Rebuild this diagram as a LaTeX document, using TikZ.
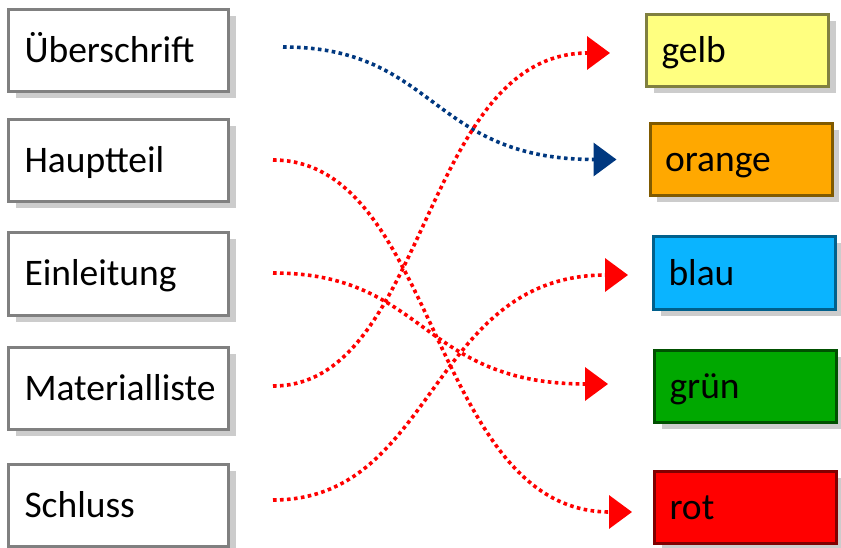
\documentclass[tikz,border=0pt]{standalone}
\usepackage{fontspec}
\setmainfont{Carlito}
\usetikzlibrary{arrows.meta,shadows,calc}
\definecolor{lborder}{RGB}{128,128,128}
\definecolor{shadowgray}{RGB}{204,204,204}
\definecolor{gelbfill}{RGB}{255,255,128}
\definecolor{gelbdraw}{RGB}{128,128,64}
\definecolor{orangefill}{RGB}{255,168,0}
\definecolor{orangedraw}{RGB}{128,90,0}
\definecolor{blaufill}{RGB}{10,180,255}
\definecolor{blaudraw}{RGB}{0,96,140}
\definecolor{gruenfill}{RGB}{0,168,0}
\definecolor{gruendraw}{RGB}{0,80,0}
\definecolor{rotfill}{RGB}{255,0,0}
\definecolor{rotdraw}{RGB}{128,0,0}
\definecolor{navy}{RGB}{0,56,128}
\tikzset{
  box/.style={rectangle, line width=3pt, align=left,
    font=\fontsize{37.5}{42}\selectfont, text height=24pt, text depth=0pt,
    drop shadow={shadow xshift=7pt, shadow yshift=-6.5pt, fill=shadowgray, opacity=1}},
  leftbox/.style={box, draw=lborder, fill=white, minimum width=220pt, minimum height=82pt,
    inner xsep=16pt, text width=188pt},
  rightbox/.style={box, minimum width=182pt, minimum height=72pt,
    inner xsep=15pt, text width=152pt},
  arr/.style={line width=3.6pt, dash pattern=on 3.6pt off 3.4pt,
    -{Triangle[length=23pt,width=33pt]}},
}
\begin{document}
\begin{tikzpicture}[x=1pt,y=-1pt]
\useasboundingbox (0,0) rectangle (841,548);
\node[leftbox] (ueb) at (118.5,51) {Überschrift};
\node[leftbox] (hau) at (118.5,160.5) {Hauptteil};
\node[leftbox] (ein) at (118.5,274) {Einleitung};
\node[leftbox] (mat) at (118.5,388) {Materialliste};
\node[leftbox] (sch) at (118.5,505) {Schluss};
\node[rightbox, draw=gelbdraw, fill=gelbfill] (gel) at (737.5,50.5) {gelb};
\node[rightbox, draw=orangedraw, fill=orangefill] (ora) at (741,159.5) {orange};
\node[rightbox, draw=blaudraw, fill=blaufill] (bla) at (744.5,273) {blau};
\node[rightbox, draw=gruendraw, fill=gruenfill] (gru) at (745.5,386.5) {grün};
\node[rightbox, draw=rotdraw, fill=rotfill] (rot) at (745.5,507) {rot};
\draw[arr, navy] ($(ueb.east)+(53,-4)$) to[out=0,in=180,out distance=154pt,in distance=187pt] ($(ora.west)+(-32,0)$);
\draw[arr, red] ($(hau.east)+(43,-0.5)$) to[out=0,in=180,out distance=165pt,in distance=201pt] ($(rot.west)+(-21,5)$);
\draw[arr, red] ($(ein.east)+(43,-1)$) to[out=0,in=180,out distance=154pt,in distance=188pt] ($(gru.west)+(-45,-2.5)$);
\draw[arr, red] ($(mat.east)+(43,-2)$) to[out=0,in=180,out distance=155pt,in distance=189pt] ($(gel.west)+(-35,2.5)$);
\draw[arr, red] ($(sch.east)+(43,-5)$) to[out=0,in=180,out distance=163pt,in distance=199pt] ($(bla.west)+(-24,2)$);
\end{tikzpicture}
\end{document}
